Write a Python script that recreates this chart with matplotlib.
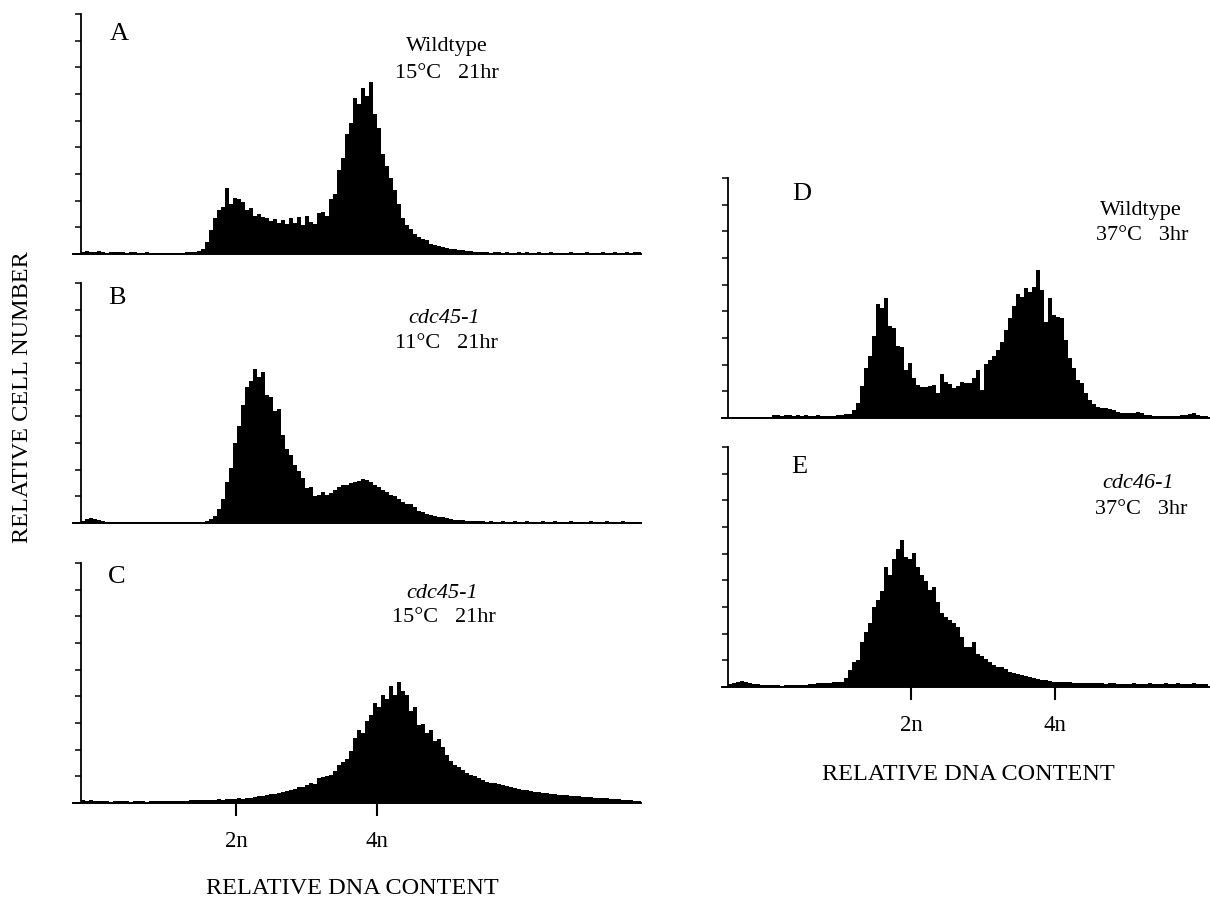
import numpy as np
import matplotlib
matplotlib.use("Agg")
import matplotlib.pyplot as plt

plt.rcParams["font.family"] = ["Liberation Serif", "DejaVu Serif"]

# relative cell number per channel
wt_15c_21hr = [
    2, 3, 2, 2, 3, 2, 1, 2, 2, 2,
    2, 1, 2, 2, 1, 1, 2, 1, 1, 1,
    1, 1, 1, 1, 1, 1, 2, 2, 2, 3,
    5, 12, 24, 36, 44, 47, 66, 50, 56, 55,
    52, 44, 46, 38, 40, 37, 36, 33, 35, 31,
    34, 30, 36, 31, 37, 29, 38, 32, 30, 41,
    42, 38, 55, 60, 84, 96, 120, 131, 156, 150,
    166, 158, 172, 140, 126, 100, 88, 76, 64, 50,
    36, 29, 25, 20, 17, 15, 14, 10, 9, 8,
    7, 6, 5, 5, 4, 4, 3, 3, 2, 2,
    2, 2, 1, 2, 2, 1, 2, 1, 1, 2,
    1, 2, 1, 1, 2, 1, 1, 2, 1, 1,
    1, 1, 2, 1, 1, 1, 2, 1, 1, 1,
    2, 1, 1, 2, 1, 1, 2, 1, 2, 2,
]
cdc45_11c_21hr = [
    2, 4, 5, 4, 3, 2, 1, 1, 1, 1,
    1, 1, 1, 1, 1, 1, 1, 1, 1, 1,
    1, 1, 1, 1, 1, 1, 1, 1, 1, 1,
    1, 2, 4, 7, 14, 24, 41, 55, 80, 97,
    118, 136, 142, 154, 146, 151, 128, 126, 112, 114,
    88, 74, 68, 58, 52, 45, 35, 36, 27, 28,
    31, 28, 30, 33, 36, 38, 38, 40, 41, 42,
    44, 43, 41, 38, 36, 33, 31, 28, 27, 24,
    21, 19, 19, 16, 12, 11, 9, 8, 7, 6,
    6, 5, 4, 3, 3, 3, 2, 2, 2, 2,
    2, 1, 2, 1, 1, 2, 1, 1, 2, 1,
    1, 2, 1, 1, 1, 2, 1, 1, 2, 1,
    1, 1, 2, 1, 1, 1, 1, 2, 1, 1,
    1, 2, 1, 1, 1, 2, 1, 1, 1, 1,
]
cdc45_15c_21hr = [
    3, 2, 3, 2, 2, 2, 2, 1, 2, 2,
    2, 2, 1, 2, 2, 2, 1, 2, 2, 2,
    2, 2, 2, 2, 2, 2, 2, 3, 3, 3,
    3, 3, 3, 3, 4, 3, 4, 4, 4, 5,
    4, 5, 5, 6, 7, 7, 8, 9, 9, 10,
    11, 12, 13, 14, 16, 16, 18, 20, 19, 25,
    26, 27, 28, 32, 38, 41, 44, 52, 65, 73,
    70, 82, 88, 100, 96, 108, 104, 117, 108, 121,
    112, 108, 92, 96, 78, 79, 70, 73, 62, 64,
    56, 48, 42, 38, 36, 33, 30, 28, 27, 25,
    23, 21, 20, 20, 19, 18, 17, 16, 15, 14,
    13, 13, 12, 11, 11, 10, 10, 9, 9, 8,
    8, 8, 7, 7, 7, 6, 6, 6, 5, 5,
    5, 5, 4, 4, 4, 3, 3, 3, 2, 2,
]
wt_37c_3hr = [
    1, 1, 1, 1, 1, 1, 1, 1, 1, 1,
    1, 3, 3, 2, 3, 3, 2, 3, 2, 3,
    2, 2, 3, 2, 2, 2, 2, 3, 3, 4,
    4, 8, 15, 32, 50, 62, 82, 114, 110, 120,
    92, 90, 72, 71, 48, 55, 40, 33, 31, 31,
    32, 33, 25, 44, 36, 34, 30, 32, 36, 35,
    35, 40, 48, 28, 54, 58, 62, 68, 76, 88,
    100, 112, 124, 121, 130, 126, 131, 148, 128, 96,
    120, 103, 101, 100, 78, 60, 50, 38, 35, 25,
    18, 14, 11, 10, 10, 9, 8, 6, 5, 5,
    5, 5, 6, 5, 3, 3, 2, 2, 2, 2,
    2, 2, 2, 3, 3, 4, 5, 3, 2, 2,
]
cdc46_37c_3hr = [
    3, 4, 5, 6, 5, 4, 3, 3, 2, 2,
    2, 2, 2, 1, 2, 2, 2, 2, 2, 2,
    3, 3, 4, 4, 4, 4, 5, 5, 5, 9,
    17, 25, 27, 45, 55, 64, 80, 87, 96, 120,
    112, 128, 138, 147, 130, 128, 134, 120, 112, 106,
    97, 100, 85, 74, 70, 67, 64, 60, 50, 40,
    40, 45, 33, 31, 28, 25, 22, 20, 20, 18,
    15, 14, 13, 12, 11, 10, 9, 8, 7, 7,
    6, 5, 5, 5, 5, 5, 4, 4, 4, 4,
    4, 4, 4, 4, 3, 4, 4, 3, 3, 3,
    3, 4, 3, 3, 3, 4, 3, 3, 3, 4,
    3, 3, 4, 3, 3, 3, 4, 3, 3, 3,
]

panel_letters = ["A", "B", "C", "D", "E"]
strains = ["Wildtype", "cdc45-1", "cdc45-1", "Wildtype", "cdc46-1"]
conditions = ["15°C   21hr", "11°C   21hr", "15°C   21hr", "37°C   3hr", "37°C   3hr"]
ploidy_labels = ["2n", "4n"]
ploidy_left = [38.75, 74.0]     # channel of 2n / 4n, left column
ploidy_right = [45.75, 81.75]   # channel of 2n / 4n, right column

W, H = 1210, 901
fig = plt.figure(figsize=(W / 100, H / 100), dpi=100)


def px_rect(left, right, bottom, top):
    return [left / W, 1 - bottom / H, (right - left) / W, (bottom - top) / H]


def fig_text(x, y, s, **kw):
    fig.text(x / W, 1 - y / H, s, ha="center", va="center", **kw)


def panel(rect, counts, xlim, ticks=None):
    ax = fig.add_axes(rect)
    edges = np.arange(len(counts) + 1)
    ax.stairs(counts, edges, fill=True, color="black", linewidth=0)
    ax.set_xlim(*xlim)
    ax.set_ylim(0, 240)
    for s in ("top", "right"):
        ax.spines[s].set_visible(False)
    ax.spines["left"].set_position(("data", 0))
    ax.spines["left"].set_linewidth(1.3)
    ax.spines["bottom"].set_linewidth(1.4)
    ax.set_yticks(np.linspace(0, 240, 10))
    ax.set_yticklabels([])
    ax.tick_params(axis="y", direction="out", length=4, width=1.1)
    if ticks is None:
        ax.set_xticks([])
    else:
        ax.set_xticks(ticks)
        ax.set_xticklabels(ploidy_labels, fontsize=16.5)
        ax.tick_params(axis="x", direction="out", length=9, width=1.5, pad=11)
    ax.patch.set_alpha(0)
    return ax


# left column
panel(px_rect(73, 641, 254, 14), wt_15c_21hr, (-2, 140))
panel(px_rect(73, 641, 523, 283), cdc45_11c_21hr, (-2, 140))
panel(px_rect(73, 641, 803, 563), cdc45_15c_21hr, (-2, 140), ploidy_left)
# right column
panel(px_rect(722, 1210, 418, 178), wt_37c_3hr, (-1.5, 120.5))
panel(px_rect(722, 1210, 687, 447), cdc46_37c_3hr, (-1.5, 120.5), ploidy_right)

letter_pos = [(119, 34), (117, 298), (117, 577), (802, 194), (799, 467)]
strain_pos = [(447, 47), (444, 318), (442, 594), (1141, 210), (1138, 483)]
cond_pos = [(447, 73), (446, 344), (444, 617), (1142, 236), (1141, 510)]
for i in range(5):
    fig_text(*letter_pos[i], panel_letters[i], fontsize=19)
    style = "normal" if strains[i] == "Wildtype" else "italic"
    fig_text(*strain_pos[i], strains[i], fontsize=16, style=style)
    fig_text(*cond_pos[i], conditions[i], fontsize=16)

fig_text(23, 397, "RELATIVE CELL NUMBER", fontsize=17.5, rotation=90)
fig_text(352, 889, "RELATIVE DNA CONTENT", fontsize=17.5)
fig_text(968, 775, "RELATIVE DNA CONTENT", fontsize=17.5)

fig.savefig("out.png", dpi=100, facecolor="white")
plt.close(fig)
